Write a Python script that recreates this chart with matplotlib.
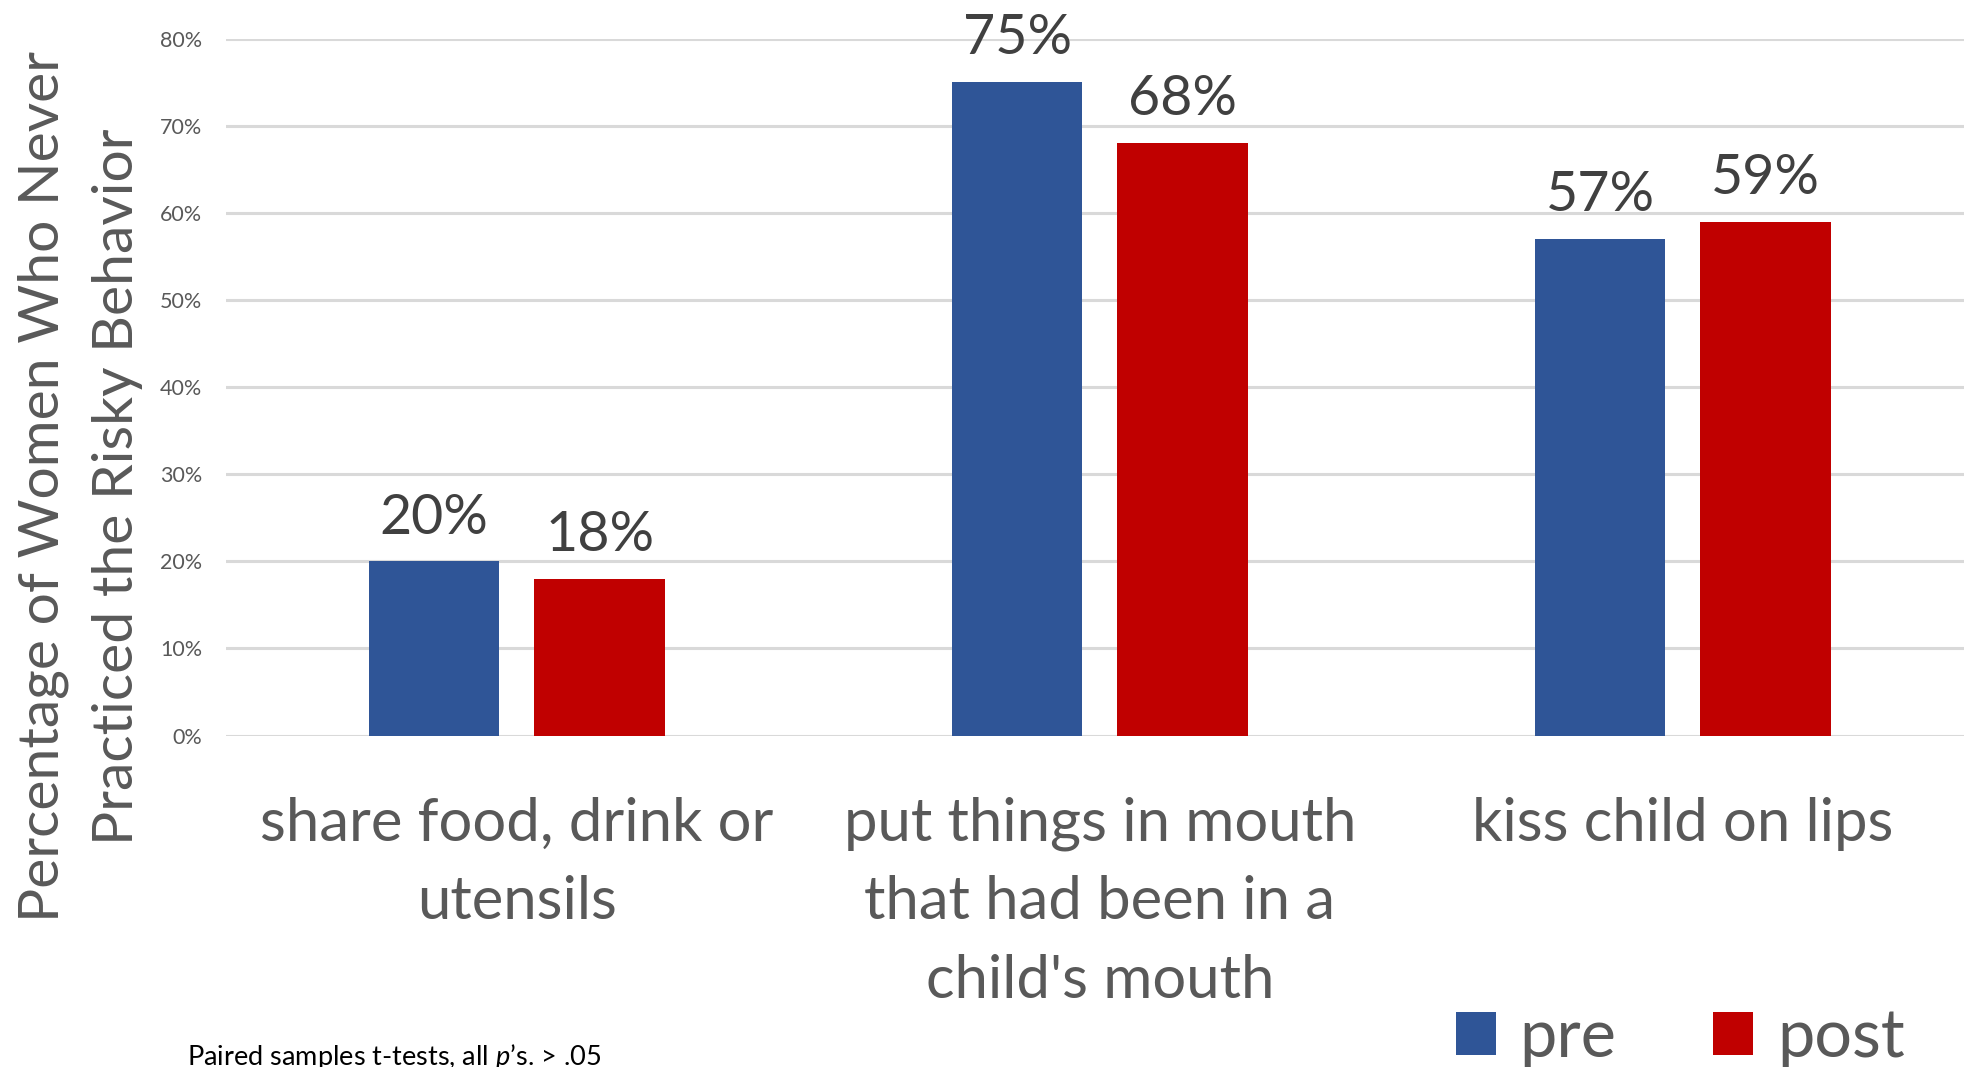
import numpy as np
import matplotlib.pyplot as plt
from matplotlib.ticker import PercentFormatter

plt.rcParams['font.family'] = ['Lato', 'DejaVu Sans']
plt.rcParams['mathtext.fontset'] = 'custom'
plt.rcParams['mathtext.rm'] = 'Lato'
plt.rcParams['mathtext.it'] = 'Lato:italic'

categories = ["share food, drink or\nutensils",
              "put things in mouth\nthat had been in a\nchild's mouth",
              "kiss child on lips"]
pre = [0.20, 0.75, 0.57]
post = [0.18, 0.68, 0.59]
series_names = ["pre", "post"]
yticks = [0.0, 0.1, 0.2, 0.3, 0.4, 0.5, 0.6, 0.7, 0.8]

blue = "#2F5597"
red = "#C00000"
grey_text = "#595959"
dark_text = "#404040"

W, H = 1964, 1067
fig = plt.figure(figsize=(W / 100, H / 100), dpi=100)
left, right = 226 / W, 1.0
bottom, top = 1 - 735.5 / H, 1 - 38.7 / H
ax = fig.add_axes([left, bottom, right - left, top - bottom])

x = np.arange(len(categories))
width = 0.224
offset = 0.142
b1 = ax.bar(x - offset, pre, width, color=blue, zorder=3, label=series_names[0])
b2 = ax.bar(x + offset, post, width, color=red, zorder=3, label=series_names[1])

for bars in (b1, b2):
    for rect in bars:
        v = rect.get_height()
        ax.annotate(f"{v * 100:.0f}%", (rect.get_x() + rect.get_width() / 2, v),
                    xytext=(0, 20), textcoords="offset points",
                    ha="center", va="baseline", fontsize=40, color=dark_text,
                    annotation_clip=False)

ax.set_xlim(-0.499, 2.482)
ax.set_ylim(0, 0.8)
ax.set_yticks(yticks)
ax.yaxis.set_major_formatter(PercentFormatter(1.0, decimals=0))
ax.tick_params(axis="y", length=0, pad=17, labelsize=15.5, labelcolor=grey_text)
ax.set_xticks([])
ax.grid(axis="y", color="#D9D9D9", linewidth=2.2, zorder=0)
for s in ax.spines.values():
    s.set_visible(False)

# category names under each group
for xi, name in zip(x, categories):
    ax.annotate(name, (xi, 0), xytext=(0, -44), textcoords="offset points",
                ha="center", va="top", fontsize=43, color=grey_text,
                linespacing=1.55, annotation_clip=False)

fig.text(80 / W, 1 - 487 / H,
         "Percentage of Women Who Never\nPracticed the Risky Behavior",
         rotation=90, ha="center", va="center", fontsize=41,
         color=grey_text, linespacing=1.55)

fig.legend(handles=[b1, b2], labels=series_names, loc="lower right",
           bbox_to_anchor=(1905 / W, -2 / H), ncol=2, frameon=False,
           fontsize=48, labelcolor=grey_text, handlelength=0.6,
           handleheight=0.6, handletextpad=0.36, columnspacing=1.45,
           borderaxespad=0, borderpad=0)

fig.text(187 / W, 2 / H, r"Paired samples t-tests, all $\mathit{p}$’s. > .05",
         ha="left", va="baseline", fontsize=19.5, color="black")

fig.savefig("out.png", dpi=100)
